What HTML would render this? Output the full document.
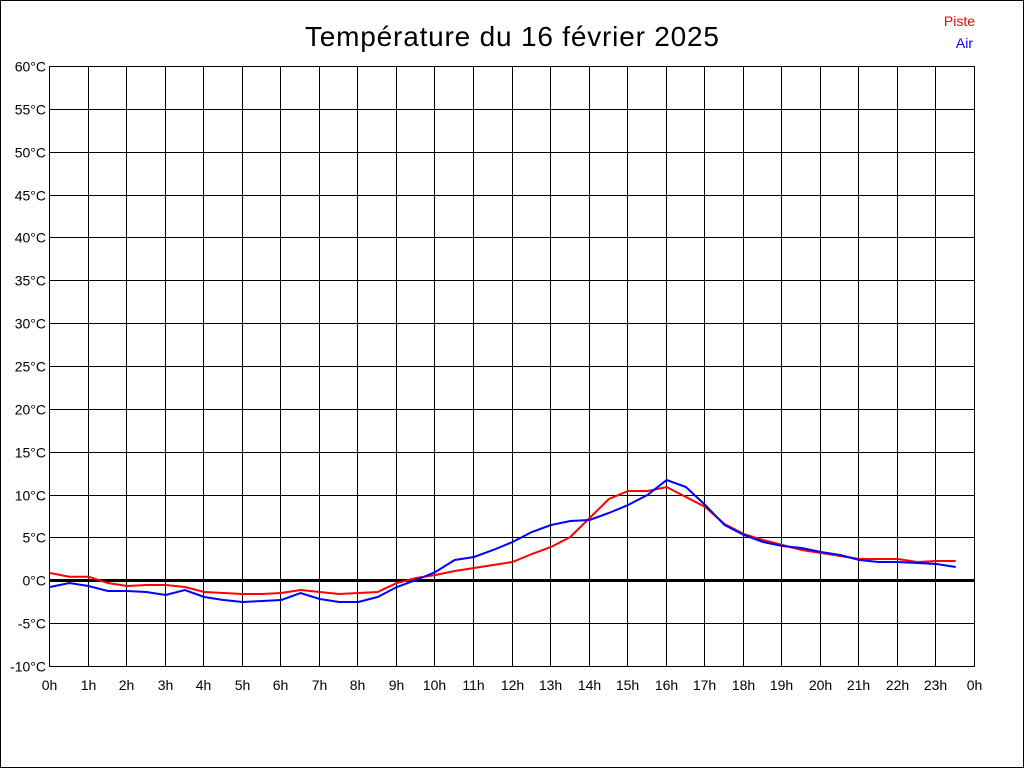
<!DOCTYPE html>
<html><head><meta charset="utf-8"><style>
html,body{margin:0;padding:0;background:#fff;}
svg{display:block;}
text{font-family:"Liberation Sans",Arial,sans-serif;}
</style></head><body>
<svg id="s" width="1024" height="768" xmlns="http://www.w3.org/2000/svg">
<rect x="0.5" y="0.5" width="1023" height="767" fill="#fff" stroke="#000"/>
<text x="512" y="46" font-size="28" text-anchor="middle" textLength="414">Température du 16 février 2025</text>
<text x="975" y="26" font-size="14" fill="#ff0000" text-anchor="end">Piste</text>
<text x="973" y="48" font-size="14" fill="#0000ff" text-anchor="end">Air</text>
<g id="g"></g>
</svg>
<script>
const g=document.getElementById('g');const NS='http://www.w3.org/2000/svg';
function el(t,a,txt){const e=document.createElementNS(NS,t);for(const k in a)e.setAttribute(k,a[k]);if(txt!==undefined)e.textContent=txt;g.appendChild(e);return e;}
const x0=49,x1=974,y0=66,y1=666;const dx=(x1-x0)/24,dy=(y1-y0)/14;
for(let i=0;i<=24;i++){const x=Math.round(x0+i*dx)+0.5;el('line',{x1:x,y1:y0,x2:x,y2:y1+0.5,stroke:'#000'});
el('text',{x:x,y:690,'font-size':14,'text-anchor':'middle'},(i%24)+'h');}
for(let j=0;j<=14;j++){const y=Math.round(y0+j*dy)+0.5;el('line',{x1:x0,y1:y,x2:x1+1,y2:y,stroke:'#000'});
el('text',{x:46,y:y+5,'font-size':14,'text-anchor':'end'},(60-5*j)+'°C');}
el('rect',{x:x0,y:579,width:x1-x0+1,height:3,fill:'#000'});
const red=[573,576.7,576.7,583,586,585,585,587,592,593,594,594,593,590,592,594,593,592,583,578,575,571,568,565,562,554,547,537,518,499,491,491,487,497,507,524,534,540,545,550,553,556,559,559,559,562,561,561];
const blue=[587,583,586,591,591,592,595,590,597,600,602,601,600,593,599,602,602,597,587,580,572,560,557,550,542,532,525,521,520,513,505,495,480,487,505,525,535,542,546,548,552,555,560,562,562,563,564,567];
function pl(d,c){el('polyline',{points:d.map((y,i)=>(50+i*dx/2).toFixed(1)+','+y).join(' '),fill:'none',stroke:c,'stroke-width':2});}
pl(red,'#ff0000');pl(blue,'#0000ff');
</script>
</body></html>
